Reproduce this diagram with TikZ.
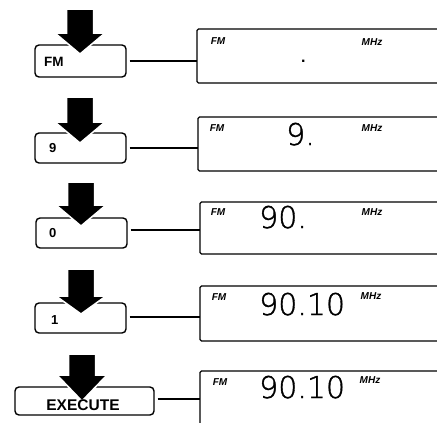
\documentclass[tikz,border=0pt]{standalone}
\usepackage{fontspec}
\setmainfont{Liberation Sans}
\newfontfamily\lcd{DejaVuSans-ExtraLight}[Extension=.ttf, FakeBold=1.2]
\begin{document}
\begin{tikzpicture}[x=1pt,y=-1pt,
  btn/.style={draw, line width=1.4pt, rounded corners=4pt, inner sep=0pt},
  btnlabel/.style={anchor=west, inner sep=0pt, font=\bfseries\fontsize{13.5}{13.5}\selectfont},
  keylabel/.style={anchor=west, inner sep=0pt, font=\bfseries\fontsize{13}{13}\selectfont},
  dispbox/.style={line width=1.3pt, rounded corners=1.5pt},
  dlabel/.style={inner sep=0pt, font=\bfseries\itshape\fontsize{10}{10}\selectfont},
  digits/.style={anchor=base west, inner sep=0pt, font=\lcd\bfseries\fontsize{30}{30}\selectfont},
  conn/.style={line width=1.2pt, shorten <=3pt},
  bigarrow/.style={fill=black, draw=white, line width=1.5pt, line join=miter}]
\useasboundingbox (0,0) rectangle (437,423);
\newcommand\myDownArrow[4]{%
  \filldraw[bigarrow] (#1-13.5,#2) -- (#1+13.5,#2) -- (#1+13.5,#3) -- (#1+25,#3)
    -- (#1,#4) -- (#1-25,#3) -- (#1-13.5,#3) -- cycle;}

% buttons
\node[btn, minimum width=91pt, minimum height=32pt] (b1) at (80.5,61) {};
\node[btn, minimum width=91pt, minimum height=30pt] (b2) at (80.5,148) {};
\node[btn, minimum width=91pt, minimum height=30pt] (b3) at (81.5,233) {};
\node[btn, minimum width=91pt, minimum height=30pt] (b4) at (80.5,318) {};
\node[btn, minimum width=139pt, minimum height=28pt] (b5) at (84.5,401) {};

% arrows
\myDownArrow{80}{9}{33}{54}
\myDownArrow{80}{97}{122}{143}
\myDownArrow{81}{182}{205}{226}
\myDownArrow{81}{269}{296}{314}
\myDownArrow{82}{354}{375}{401}

% button labels
\node[btnlabel] (l1) at (44,61.5) {FM};
\node[keylabel] (l2) at (49,148.5) {9};
\node[keylabel] (l3) at (49,233) {0};
\node[keylabel] (l4) at (51,320) {1};
\node[btnlabel, anchor=center, font=\bfseries\fontsize{15.5}{15.5}\selectfont] (l5) at (83,405) {EXECUTE};

% display boxes
\draw[dispbox] (437,29) -- (197,29) -- (197,83) -- (437,83);
\draw[dispbox] (437,117) -- (198,117) -- (198,171) -- (437,171);
\draw[dispbox] (437,202) -- (200,202) -- (200,254) -- (437,254);
\draw[dispbox] (437,286) -- (200,286) -- (200,341) -- (437,341);
\draw[dispbox] (437,371) -- (200,371) -- (200,423);

\coordinate (d1) at (197,61);
\coordinate (d2) at (198,148);
\coordinate (d3) at (200,230);
\coordinate (d4) at (200,317);
\coordinate (d5) at (200,399);

% connectors
\draw[conn] (d1 -| b1.east) -- (d1);
\draw[conn] (d2 -| b2.east) -- (d2);
\draw[conn] (d3 -| b3.east) -- (d3);
\draw[conn] (d4 -| b4.east) -- (d4);
\draw[conn] (d5 -| b5.east) -- (d5);

% display labels
\node[dlabel] (f1) at (218,41) {FM};
\node[dlabel] (m1) at (372,42) {MHz};
\node[dlabel] (f2) at (217,128) {FM};
\node[dlabel] (m2) at (372,128) {MHz};
\node[dlabel] (f3) at (218,212) {FM};
\node[dlabel] (m3) at (372,212) {MHz};
\node[dlabel] (f4) at (219,297) {FM};
\node[dlabel] (m4) at (371,296) {MHz};
\node[dlabel] (f5) at (220,382) {FM};
\node[dlabel] (m5) at (370,380) {MHz};

% display digits
\node[digits, font=\bfseries\fontsize{16}{16}\selectfont] (v1) at (301,62.5) {.};
\node[digits] (v2) at (286,145) {9.};
\node[digits] (v3) at (259,228) {90.};
\node[digits] (v4) at (259,315) {90.10};
\node[digits] (v5) at (259,398) {90.10};
\end{tikzpicture}
\end{document}
